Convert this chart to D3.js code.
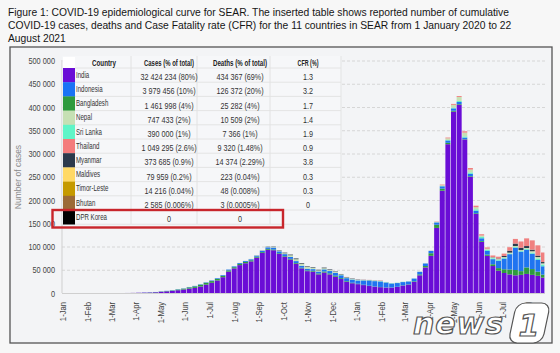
<!DOCTYPE html>
<html>
<head>
<meta charset="utf-8">
<script src="https://cdn.jsdelivr.net/npm/d3@7"></script>
<style>
  body { margin: 0; background: #f7f7f7; }
  svg { display: block; }
</style>
</head>
<body>
<svg id="chart"></svg>
<script>
// weekly bins from 1 Jan 2020, values = daily new cases (thousands)
const india = [0,0,0,0,0,0,0,0,0,0,
  0,0.04,0.15,0.5,0.8,1.0,1.5,2.5,3.5,4.5,
  6,7.5,9.5,11,14,18,22,27,34,46,
  53,60,64,68,76,86,93,92,84,78,
  72,63,53,47,46,40,44,40,35,30,
  24,21,19,17,15,13.5,12.5,11.5,11.5,13,
  16,18,24,38,55,80,140,220,320,390,
  405,330,250,170,110,80,58,48,43,40,
  38,39,41,39,37,33];
const bangladesh = [0,0,0,0,0,0,0,0,0,0,
  0,0.01,0.01,0.02,0.1,0.3,0.4,0.6,0.7,0.9,
  1.4,1.8,2.6,3.2,3.7,3.8,3.6,3.2,2.9,2.6,
  2.5,2.5,2.7,2.4,2.0,1.8,1.8,1.6,1.5,1.4,
  1.4,1.5,1.5,1.6,1.8,2.1,2.2,2.2,2.2,1.9,
  1.4,1.1,0.9,0.8,0.6,0.5,0.5,0.4,0.4,0.4,
  0.5,0.7,1.2,2.0,3.0,5.5,6.8,4.5,3.0,2.0,
  1.3,0.8,1.3,1.5,1.7,2.5,3.8,5.5,8.0,10.5,
  11.5,8.0,14.0,12.5,9.0,6.5];
const indonesia = [0,0,0,0,0,0,0,0,0,0,
  0.01,0.05,0.1,0.15,0.3,0.35,0.3,0.35,0.4,0.5,
  0.6,0.6,0.7,1.0,1.1,1.2,1.4,1.6,1.6,1.8,
  1.8,1.9,2.0,2.2,2.6,3.1,3.5,4.0,4.2,4.2,
  4.2,4.1,4.0,3.5,3.5,4.0,4.5,5.0,5.8,6.2,
  6.5,6.8,7.0,9.0,11.0,11.5,11.8,10.5,8.5,8.0,
  7.0,6.0,5.8,5.5,5.5,5.0,5.0,5.0,5.0,5.0,
  4.5,3.5,5.0,5.5,6.0,8.0,11.0,16.0,23.0,33.0,
  48.0,42.0,38.0,33.0,25.0,18.0];
const sriLanka = [0,0,0,0,0,0,0,0,0,0,
  0,0,0,0,0,0,0,0,0,0,
  0,0,0,0,0,0,0,0,0,0,
  0,0,0,0,0,0,0,0,0,0,
  0.1,0.3,0.4,0.4,0.4,0.4,0.4,0.5,0.6,0.6,
  0.6,0.6,0.6,0.6,0.7,0.8,0.8,0.9,0.8,0.6,
  0.5,0.35,0.3,0.3,0.3,0.3,0.3,0.5,1.0,1.6,
  2.3,2.5,3.0,3.0,2.8,2.4,2.0,1.8,1.7,1.5,
  1.5,1.5,1.8,2.5,3.3,3.8];
const nepal = [0,0,0,0,0,0,0,0,0,0,
  0,0,0,0,0,0,0,0,0.01,0.02,
  0.05,0.2,0.3,0.4,0.4,0.5,0.4,0.2,0.1,0.2,
  0.3,0.4,0.6,0.8,1.0,1.0,1.1,1.2,1.3,2.0,
  3.5,3.8,4.0,3.5,2.5,2.2,2.2,1.7,1.5,1.3,
  1.0,0.8,0.6,0.4,0.3,0.25,0.2,0.15,0.1,0.1,
  0.08,0.08,0.08,0.1,0.15,0.3,0.8,1.8,3.5,6.0,
  8.5,8.0,6.0,4.5,3.0,2.2,1.8,1.6,1.5,1.8,
  2.0,1.8,2.0,2.8,3.0,2.5];
const myanmar = [0,0,0,0,0,0,0,0,0,0,
  0,0,0,0,0,0,0,0,0,0,
  0,0,0,0,0,0,0,0,0,0,
  0,0,0,0,0.05,0.2,0.5,0.8,0.9,1.2,
  1.4,1.6,1.4,1.2,1.2,1.3,1.3,1.2,1.0,0.9,
  0.8,0.8,0.7,0.5,0.4,0.3,0.3,0.1,0.02,0.02,
  0.02,0.02,0.02,0.02,0.02,0.02,0.02,0.02,0.02,0.02,
  0.02,0.02,0.02,0.04,0.1,0.3,0.6,1.2,2.5,4.2,
  5.3,5.0,4.2,3.4,3.2,2.8];
const thailand = [0,0,0,0,0,0,0,0,0,0,
  0,0.05,0.12,0.1,0.05,0.03,0.01,0.01,0,0,
  0,0,0,0,0,0,0,0,0,0,
  0,0,0,0,0,0,0,0,0,0,
  0,0,0,0,0,0,0,0,0,0,
  0.3,0.1,0.15,0.25,0.2,0.3,0.7,0.2,0.1,0.1,
  0.07,0.07,0.08,0.1,0.09,0.15,0.7,1.4,1.8,2.0,
  2.0,3.0,3.5,3.2,2.8,2.6,3.5,4.0,5.0,7.5,
  10.0,13.5,16.5,20.0,22.0,20.5];

// inserted table
const tableCountries = ["India","Indonesia","Bangladesh","Nepal","Sri Lanka","Thailand","Myanmar","Maldives","Timor-Leste","Bhutan","DPR Korea"];
const tableCases = ["32 424 234 (80%)","3 979 456 (10%)","1 461 998 (4%)","747 433 (2%)","390 000 (1%)","1 049 295 (2.6%)","373 685 (0.9%)","79 959 (0.2%)","14 216 (0.04%)","2 585 (0.006%)","0"];
const tableDeaths = ["434 367 (69%)","126 372 (20%)","25 282 (4%)","10 509 (2%)","7 366 (1%)","9 320 (1.48%)","14 374 (2.29%)","223 (0.04%)","48 (0.008%)","3 (0.0005%)","0"];
const tableCfr = ["1.3","3.2","1.7","1.4","1.9","0.9","3.8","0.3","0.3","0",""];
const tableColors = ["#6a0dd6","#1a73f5","#2e9a3e","#c6e0b4","#5ff5c8","#f47c7c","#2c3a4c","#ffd966","#c59a00","#9c6a37","#000000"];
const tableHeaders = ["Country","Cases (% of total)","Deaths (% of total)","CFR (%)"];

const titleLines = [
  "Figure 1: COVID-19 epidemiological curve for SEAR. The inserted table shows reported number of cumulative",
  "COVID-19 cases, deaths and Case Fatality rate (CFR) for the 11 countries in SEAR from 1 January 2020 to 22",
  "August 2021"
];

const seriesKeys = ["India","Bangladesh","Indonesia","Sri Lanka","Nepal","Myanmar","Thailand"];
const seriesValues = [india, bangladesh, indonesia, sriLanka, nepal, myanmar, thailand];
const seriesColors = ["#6a0dd6","#2e9a3e","#1f74f0","#5ff0c8","#c6e0b4","#2c3a4c","#f08080"];

const startDate = new Date(2020, 0, 1);
const endDate = new Date(2021, 7, 23);
const FONT = "Liberation Sans, Arial, sans-serif";

// no narrow font installed, so squeeze the text horizontally
function squeeze(sel, k) {
  sel.each(function () {
    const w = this.getComputedTextLength();
    d3.select(this).attr("textLength", w * k).attr("lengthAdjust", "spacingAndGlyphs");
  });
}

const svg = d3.select("#chart").attr("width", 560).attr("height", 353);

// title
const title = svg.append("g").selectAll("text")
  .data(titleLines)
  .enter()
  .append("text")
  .attr("x", 8)
  .attr("y", (d, i) => 16 + i * 12.8)
  .attr("font-family", FONT)
  .attr("font-size", 11.3)
  .attr("fill", "#151515")
  .text(d => d);
const k1 = 501 / title.node().getComputedTextLength();
squeeze(title, k1);

// chart frame
svg.append("rect")
  .attr("x", 10).attr("y", 47)
  .attr("width", 542).attr("height", 296)
  .attr("fill", "#f3f4f6")
  .attr("stroke", "#555")
  .attr("stroke-width", 1.3);

const x = d3.scaleTime().domain([startDate, endDate]).range([63, 545]);
const y = d3.scaleLinear().domain([0, 500]).range([293, 60.5]);

// gridlines
svg.append("g")
  .attr("transform", "translate(62,0)")
  .call(d3.axisLeft(y).tickValues(d3.range(50, 501, 50)).tickSize(-483).tickFormat(""))
  .call(g => g.select(".domain").remove())
  .selectAll("line")
  .attr("stroke", "#d6d6d6")
  .attr("stroke-dasharray", "3,2");

// weekly rows for the stack
const rows = india.map((v, i) => {
  const row = { start: d3.timeDay.offset(startDate, i * 7) };
  seriesKeys.forEach((k, j) => row[k] = seriesValues[j][i]);
  return row;
});
const stacked = d3.stack().keys(seriesKeys)(rows);

svg.append("g").selectAll("g")
  .data(stacked)
  .enter()
  .append("g")
  .attr("fill", (d, i) => seriesColors[i])
  .selectAll("rect")
  .data(d => d)
  .enter()
  .append("rect")
  .attr("x", d => x(d.data.start))
  .attr("width", d => {
    const end = d3.min([d3.timeDay.offset(d.data.start, 7), endDate]);
    return Math.max(0, x(end) - x(d.data.start) - 0.6);
  })
  .attr("y", d => y(d[1]))
  .attr("height", d => Math.max(0, y(d[0]) - y(d[1])));

// axis lines
svg.append("line").attr("x1", 62).attr("x2", 62).attr("y1", 60).attr("y2", 293)
  .attr("stroke", "#cfcfcf");
svg.append("line").attr("x1", 62).attr("x2", 545).attr("y1", 293.5).attr("y2", 293.5)
  .attr("stroke", "#cfcfcf");

const fmt = d3.format(",");
const yAxis = svg.append("g")
  .attr("transform", "translate(62,0)")
  .call(d3.axisLeft(y).tickValues(d3.range(0, 501, 50)).tickSize(0).tickPadding(7)
    .tickFormat(d => fmt(d * 1000).replace(/,/g, " ")));
yAxis.select(".domain").remove();
yAxis.selectAll("text")
  .attr("font-family", FONT)
  .attr("font-size", 9.8)
  .attr("fill", "#444")
  .call(squeeze, 0.75);

const xAxis = svg.append("g")
  .attr("transform", "translate(0,293)")
  .call(d3.axisBottom(x).tickValues(d3.timeMonth.range(startDate, new Date(2021, 7, 2)))
    .tickSize(0).tickFormat(d3.timeFormat("%-d-%b")));
xAxis.select(".domain").remove();
xAxis.selectAll("text")
  .attr("transform", "rotate(-90)")
  .attr("x", -9)
  .attr("y", 0)
  .attr("dy", "0.32em")
  .attr("text-anchor", "end")
  .attr("font-family", FONT)
  .attr("font-size", 9)
  .attr("fill", "#444")
  .call(squeeze, 0.85);

svg.append("text")
  .attr("transform", "translate(21,177) rotate(-90)")
  .attr("text-anchor", "middle")
  .attr("font-family", FONT)
  .attr("font-size", 8.5)
  .attr("fill", "#8a8a8a")
  .text("Number of cases");

// inserted table
const tbl = svg.append("g");
const rowH = 14.2, headTop = 56, bodyTop = 68;
tbl.append("rect")
  .attr("x", 62.5).attr("y", headTop)
  .attr("width", 279).attr("height", bodyTop + rowH * 11 - headTop)
  .attr("fill", "#f6f7f9");
tbl.selectAll(".hline")
  .data(d3.range(12))
  .enter()
  .append("line")
  .attr("x1", 75).attr("x2", 341)
  .attr("y1", i => bodyTop + i * rowH).attr("y2", i => bodyTop + i * rowH)
  .attr("stroke", "#e4e4e4");
tbl.selectAll(".vline")
  .data([131, 197, 270, 341])
  .enter()
  .append("line")
  .attr("x1", d => d).attr("x2", d => d)
  .attr("y1", headTop).attr("y2", bodyTop + rowH * 11)
  .attr("stroke", "#e2e2e2");
tbl.append("rect")
  .attr("x", 63).attr("y", headTop + 1)
  .attr("width", 12).attr("height", bodyTop - headTop - 1)
  .attr("fill", "#ffffff");
tbl.selectAll(".swatch")
  .data(tableColors)
  .enter()
  .append("rect")
  .attr("x", 63).attr("y", (d, i) => bodyTop + i * rowH)
  .attr("width", 12).attr("height", rowH + 0.3)
  .attr("fill", d => d);

const colX = [104, 169, 240, 308];
const headW = [24, 50, 54, 21];
tbl.append("g").selectAll("text")
  .data(tableHeaders)
  .enter()
  .append("text")
  .attr("x", (d, i) => colX[i]).attr("y", 63)
  .attr("dy", "0.35em")
  .attr("text-anchor", "middle")
  .attr("font-family", FONT)
  .attr("font-weight", "bold")
  .attr("font-size", 9)
  .attr("fill", "#222")
  .attr("textLength", (d, i) => headW[i])
  .attr("lengthAdjust", "spacingAndGlyphs")
  .text(d => d);

const addCol = (vals, cx, anchor, dy, size, k) => tbl.append("g").selectAll("text")
  .data(vals)
  .enter()
  .append("text")
  .attr("x", cx)
  .attr("y", (d, i) => bodyTop + i * rowH + rowH / 2 + dy)
  .attr("dy", "0.35em")
  .attr("text-anchor", anchor)
  .attr("font-family", FONT)
  .attr("font-size", size)
  .attr("fill", "#333")
  .text(d => d)
  .call(squeeze, k);
addCol(tableCountries, 76, "start", -0.5, 9, 0.68);
addCol(tableCases, colX[1], "middle", 2, 9, 0.8);
addCol(tableDeaths, colX[2], "middle", 2, 9, 0.8);
addCol(tableCfr, colX[3], "middle", 2, 9, 0.8);

// highlight of DPR Korea row
svg.append("rect")
  .attr("x", 52.5).attr("y", 210)
  .attr("width", 230.5).attr("height", 17.5)
  .attr("fill", "none")
  .attr("stroke", "#c8262c")
  .attr("stroke-width", 2.4);

// news1 watermark
const wm = svg.append("g");
wm.append("text")
  .attr("x", 413).attr("y", 334)
  .attr("font-family", "DejaVu Sans, sans-serif")
  .attr("font-weight", "bold")
  .attr("font-style", "italic")
  .attr("font-size", 30)
  .attr("fill", "#ffffff")
  .attr("stroke", "#555")
  .attr("stroke-width", 1.2)
  .attr("textLength", 90)
  .text("news");
wm.append("rect")
  .attr("x", 515).attr("y", 303)
  .attr("width", 34).attr("height", 40)
  .attr("rx", 9)
  .attr("transform", "skewX(-12) translate(66,0)")
  .attr("fill", "#ffffff")
  .attr("stroke", "#555")
  .attr("stroke-width", 1.2);
wm.append("text")
  .attr("x", 529).attr("y", 336)
  .attr("text-anchor", "middle")
  .attr("font-family", "DejaVu Sans, sans-serif")
  .attr("font-weight", "bold")
  .attr("font-style", "italic")
  .attr("font-size", 30)
  .attr("fill", "#ffffff")
  .attr("stroke", "#555")
  .attr("stroke-width", 1.2)
  .text("1");
</script>
</body>
</html>
